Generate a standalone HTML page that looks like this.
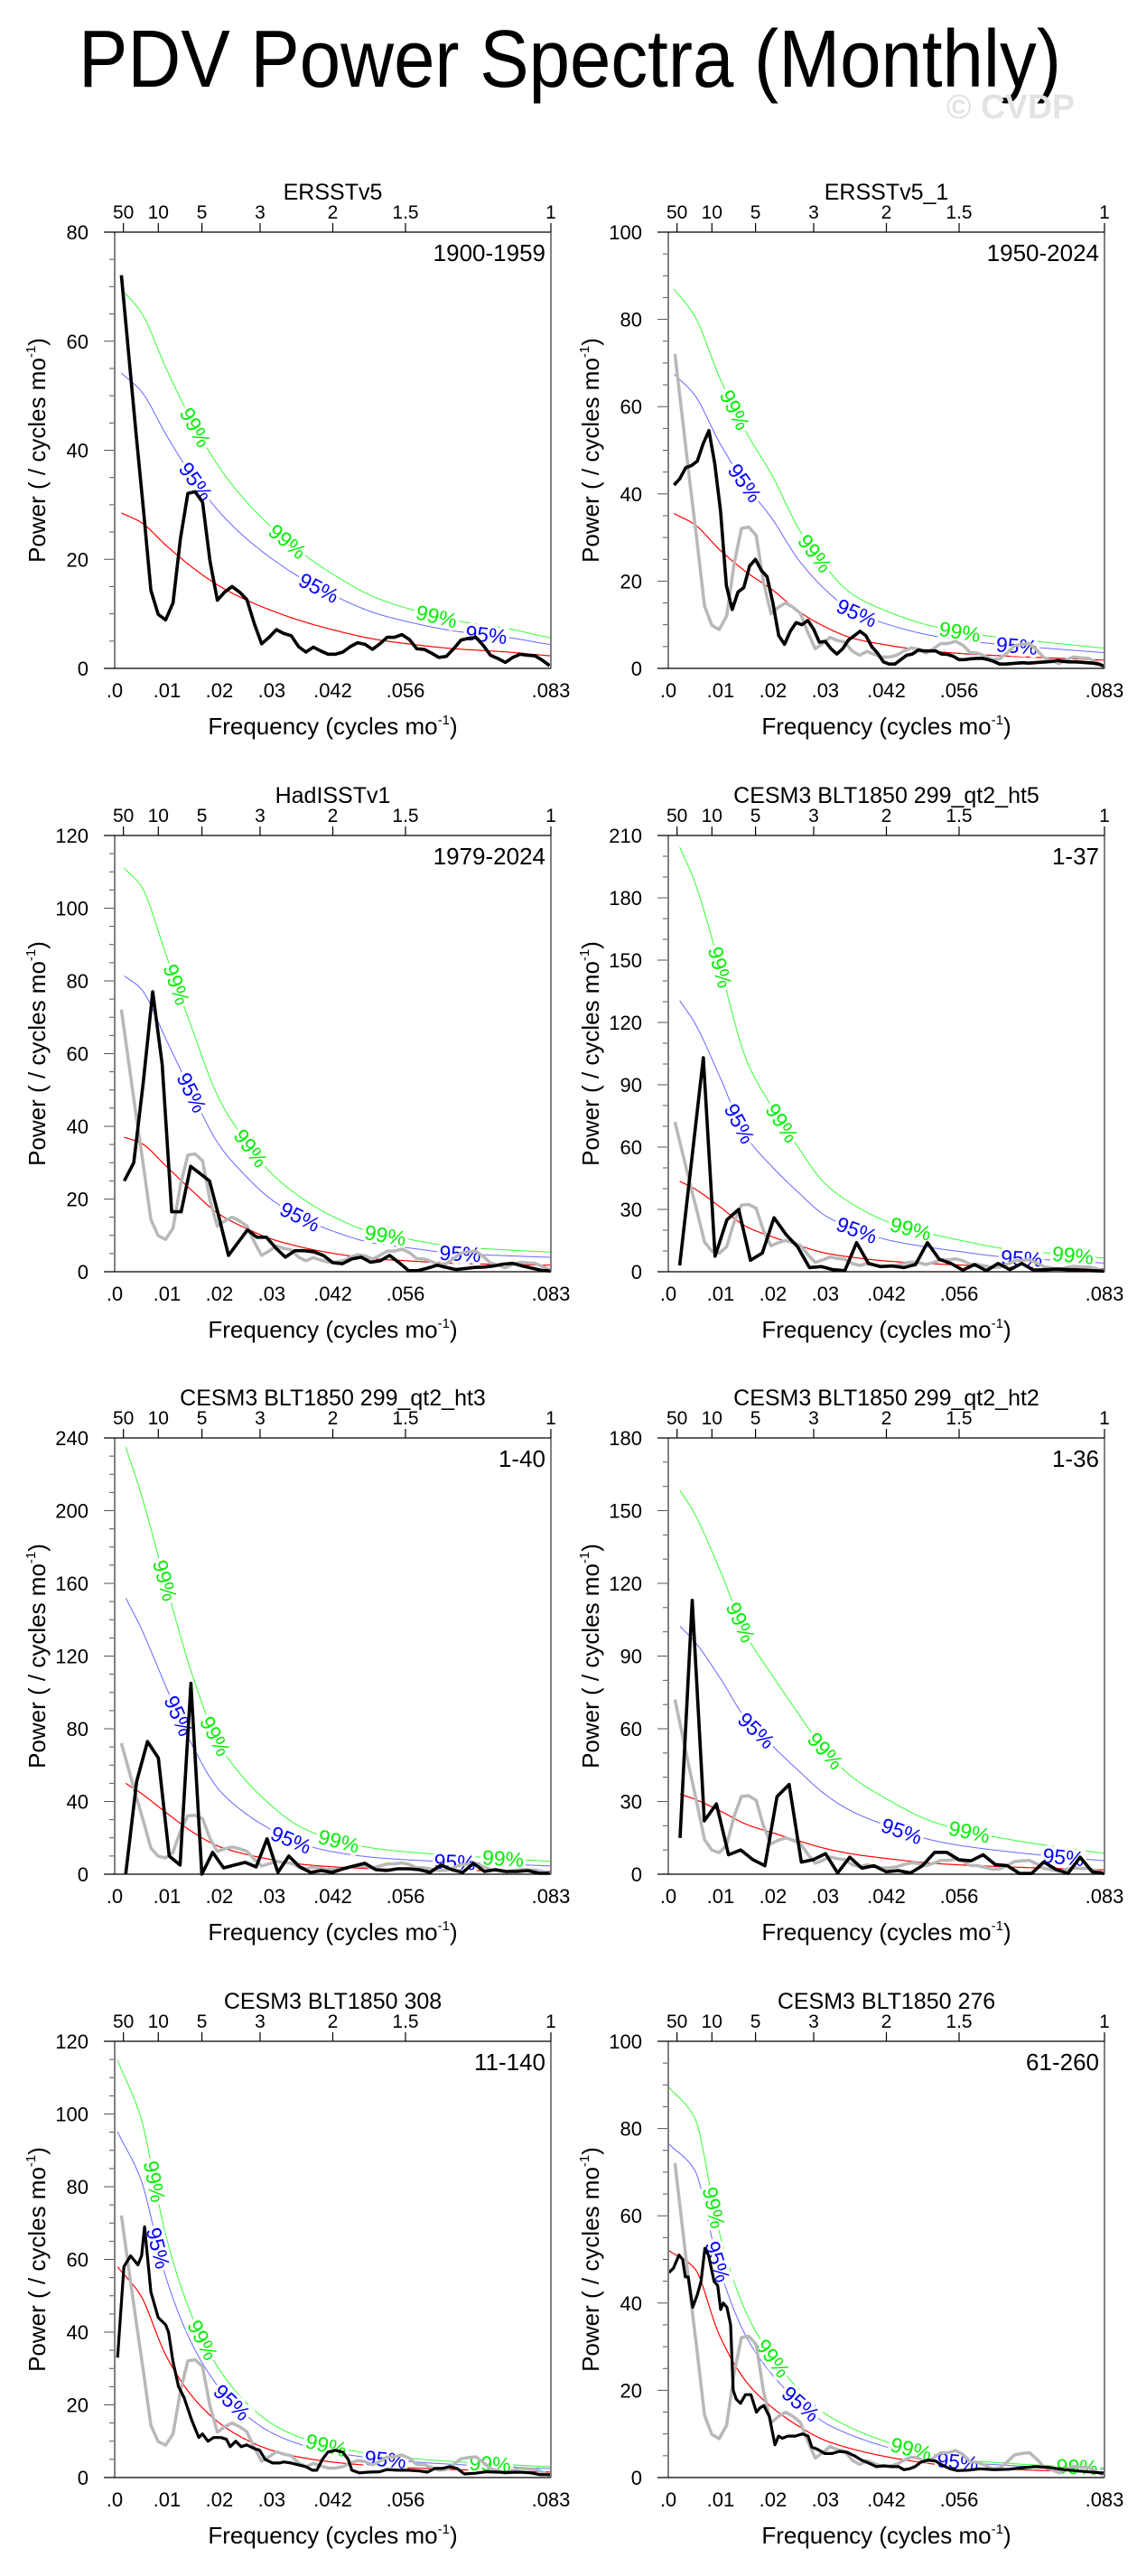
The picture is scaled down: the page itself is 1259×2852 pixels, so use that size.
<!DOCTYPE html>
<html><head><meta charset="utf-8"><style>
html,body{margin:0;padding:0;background:#fff;}
svg{display:block;font-family:"Liberation Sans",Arial,sans-serif;}
</style></head><body>
<svg id="root" width="1259" height="2852" viewBox="0 0 1259 2852">
<rect x="0" y="0" width="1259" height="2852" fill="#fff"/>
<text x="87" y="96" font-size="90" textLength="1088" lengthAdjust="spacingAndGlyphs" fill="#000">PDV Power Spectra (Monthly)</text>
<text x="1048" y="131" font-size="38" font-weight="bold" fill="#e3e3e3" textLength="142" lengthAdjust="spacingAndGlyphs">© CVDP</text>
<g id="panels"></g>
</svg>
<script>
// ---------- data ----------
const titles = ["ERSSTv5","ERSSTv5_1","HadISSTv1","CESM3 BLT1850 299_qt2_ht5","CESM3 BLT1850 299_qt2_ht3","CESM3 BLT1850 299_qt2_ht2","CESM3 BLT1850 308","CESM3 BLT1850 276"];
const ranges = ["1900-1959","1950-2024","1979-2024","1-37","1-40","1-36","11-140","61-260"];
const yMaxes = [80,100,120,210,240,180,120,100];
const yMajor = [20,20,20,30,40,30,20,20];
const yMinor = [5,5,5,10,10,10,5,5];
const periodLabels = ["50","10","5","3","2","1.5","1"];
const periodYears = [50,10,5,3,2,1.5,1];
const freqTickLabels = [".0",".01",".02",".03",".042",".056",".083"];
const freqTickValues = [0,0.01,0.02,0.03,0.041667,0.055556,0.083333];

const p1Power = [72.1,57.6,43,29,14.3,9.9,8.9,12,23.8,32.1,32.4,30.5,19.7,12.5,14,15,14,12.6,8.2,4.5,5.7,7.1,6.4,6,4,3,3.9,3.2,2.6,2.6,3,4,4.7,4.4,3.5,4.5,5.7,5.7,6.2,5.3,3.6,3.5,2.8,2,2.2,3.6,5.2,5.5,5.7,4.2,2.4,1.8,1.1,2,2.6,2.4,2.3,1.5,0.5];
const p2Power = [42,43.5,46,46.5,47.5,51.5,54.5,47,36,19,13.5,17.5,18.5,23.5,25,22.5,21,15,7.5,5.5,8.5,10.5,10,11,9,6,6.2,4.5,3.3,4.5,6.5,7.5,8.5,7.5,5,3.5,1.5,1,1,2,3,3.3,4.2,4,4,4,3.3,3.2,2.8,2,2,2.2,2.3,2.3,2,1.6,1,1,1.1,1.2,1.3,1.2,1.3,1.4,1.5,1.6,1.8,1.6,1.5,1.5,1.4,1.3,1.2,1,0.5];
const p3Power = [25,30,52,77,57,16.5,16.5,29,27,25,15,4.5,8,11.5,9.5,9.5,6.5,4,5.8,5.8,5.5,4.5,2.5,2.2,3.5,4,2.6,3,4.5,2.5,0.3,0.3,1,1.8,1.2,0.6,0.9,1.2,1.3,1.6,2.1,2.3,1.6,1,0.4,0.2];
const p4Power = [3,53,103,7.5,25,30,5.5,9,26,18,12,2,2.5,1,0.5,14,4,2.5,2.8,2,3.5,14,6,4,0.8,3.5,0.5,4,1,4,0.8,1,1.3,1,0.8,0.5,0.3];
const p5Power = [0,51,73,64,10,5,105,0,12,3.5,5,6.5,4,19.5,1,10,4,1,2,1,3,4.5,6,2.5,2,3,3,2.5,1,5,2.5,1,6,1.5,2.5,1.5,1.5,2,0.5,0.5];
const p6Power = [15,113,22,29,8,10,6,3.5,32,37,5,6,8.5,0.5,7,2.5,3.5,1,1.5,0.5,3.5,9,9,6,5.5,8,4,3.5,0.3,0.3,5,2,0.3,7,1,0.3];
const p7Freq = [.00056,.00176,.00303,.00444,.00514,.00571,.00691,.00832,.00973,.01029,.01113,.01219,.01325,.01466,.01607,.01677,.01783,.01889,.0203,.02135,.02206,.02312,.02417,.02523,.02664,.0277,.02876,.03016,.03157,.03228,.03369,.0351,.03651,.03777,.03862,.03968,.04073,.04214,.04355,.04461,.04531,.04672,.04849,.0506,.05201,.05412,.05624,.05835,.05976,.06117,.06258,.06399,.0654,.06681,.06892,.07104,.07315,.07526,.07738,.07949,.08126,.0833];
const p7Power = [33,58,61,58.5,61,69,51,44,42,40,32,25,22,16,11,12,10,11,11,10.5,8.5,10,8.5,9,8,7.5,5,4,4,4.3,4,3.5,3,2,2,5,7,7.5,7,5,2,1.3,1.5,1.6,2.2,2,2,1.8,1.5,2.5,2.5,3,2.5,1,1.2,1.6,1.5,1.4,1.5,1.3,0.8,0.8];
const p8Freq = [.00014,.00099,.00204,.00275,.00324,.00381,.00465,.00557,.00627,.00698,.00768,.00874,.00944,.01001,.0105,.0112,.01191,.0124,.01297,.01381,.01473,.01579,.01684,.01755,.01825,.01931,.02037,.02107,.02178,.02283,.02424,.02565,.02671,.02741,.02847,.02988,.03129,.0327,.03411,.03552,.03693,.03834,.03975,.04116,.04257,.04397,.04503,.04609,.04715,.0482,.04961,.05102,.05243,.05384,.05525,.05736,.05948,.0623,.06512,.06723,.07005,.07287,.07569,.07851,.08133,.0833];
const p8Power = [47,48,51,50,46,46,39,42,45,52.5,51,45,44,38.5,40,39,35,20,18,17,19,19,15,16,16.5,14,7.5,9.5,9,9.5,9.5,10,9.5,7,6.5,5.5,5.5,6,5.8,5,4,3.3,2.5,2.7,2.5,2.5,1.8,2,2.5,3.5,4,3.8,2.8,2,1.6,1.7,2,1.8,1.9,2.2,2.5,2.3,1.8,1.5,1.2,1];
const freqRanges = [[.00127,.0831],[.0011,.0833],[.00183,.0833],[.00218,.0833],[.00211,.0831],[.00225,.0833]];

const redGrid = [0.005,0.01,0.015,0.02,0.025,0.03,0.035,0.042,0.05,0.056,0.065,0.075,0.0833];
const redStartFreq = [.00127,.0011,.00183,.00218,.00211,.00225,.00056,.00014];
const p1Red = [28.5,26.8,22.4,18.4,15.1,12.6,10.6,8.9,7,5.3,4.5,3.6,3,2.3];
const p2Red = [35.5,33,27,22,17.9,13,9.5,7,5.3,4,3.4,2.8,2.3,1.9];
const p3Red = [37,35.4,28.8,22,15.8,12,9,7,5,3.5,3,2.3,2,1.8];
const p4Red = [43.5,40,31,21.6,16.7,12.6,9,7,5.1,3.9,3.2,2.3,1.8,1.4];
const p5Red = [50,44.6,33.5,23,15.2,11,8,5.7,4,3,2.6,2.2,1.8,1.5];
const p6Red = [33,31,26,20.5,17,13.7,10.6,8.4,6.4,4.6,3.8,3,2.3,1.8];
const p7Red = [58,50,33,22,15,10.5,7.5,5.7,4.2,3.2,2.7,2.2,1.8,1.5];
const p8Red = [52,48,32,21.8,15.9,11.7,8.5,6.6,4.7,3.2,2.4,1.9,1.5,1.3];
const conf95 = [1.9,1.9,2.2,3.0,3.04,3.1,1.64,1.47];
const conf99 = [2.44,2.45,3.0,4.7,4.7,4.8,1.98,1.72];
const lab99 = [[.0154,.033,.0615],[.0127,.028,.0557],[.0118,.026,.0517],[.0099,.0217,.0463,.0773],[.0096,.0192,.0428,.0742],[.0138,.03,.0575],[.0076,.0168,.0404,.0717],[.0087,.02,.0464,.0781]];
const lab95 = [[.0155,.039,.071],[.0146,.036,.0666],[.0147,.0354,.066],[.0136,.036,.0675],[.0122,.0337,.065],[.0168,.0446,.0755],[.0083,.0224,.0517],[.0094,.0253,.0553]];

const powers = [p1Power,p2Power,p3Power,p4Power,p5Power,p6Power,p7Power,p8Power];
const reds = [p1Red,p2Red,p3Red,p4Red,p5Red,p6Red,p7Red,p8Red];

// ---------- layout ----------
const NS = "http://www.w3.org/2000/svg";
const W = 483, H = 483, XMAX = 0.083333;
const colLeft = [127, 740];
const rowTop = [257, 925, 1592, 2260];
const root = document.getElementById('panels');

function mk(tag, attrs, parent, text){
  const e = document.createElementNS(NS, tag);
  for (const k in attrs) e.setAttribute(k, attrs[k]);
  if (text !== undefined) e.textContent = text;
  parent.appendChild(e);
  return e;
}
function evenFreqs(r, n){ const a=[]; for(let i=0;i<n;i++) a.push(r[0]+(r[1]-r[0])*i/(n-1)); return a; }
// monotone cubic (Fritsch-Carlson) interpolation on log values
function makeInterp(fs, vs){
  const n = fs.length, ys = vs.map(v=>Math.log(v)), d=[], m=new Array(n);
  for (let i=0;i<n-1;i++) d.push((ys[i+1]-ys[i])/(fs[i+1]-fs[i]));
  m[0]=d[0]; m[n-1]=d[n-2];
  for (let i=1;i<n-1;i++){
    if (d[i-1]*d[i]<=0) m[i]=0;
    else { const h0=fs[i]-fs[i-1], h1=fs[i+1]-fs[i]; const w1=2*h1+h0, w2=h1+2*h0; m[i]=(w1+w2)/(w1/d[i-1]+w2/d[i]); }
  }
  return function(f){
    if (f<=fs[0]) return vs[0];
    if (f>=fs[n-1]) return vs[n-1];
    let i=0; while (f>fs[i+1]) i++;
    const h=fs[i+1]-fs[i], t=(f-fs[i])/h, t2=t*t, t3=t2*t;
    const y=(2*t3-3*t2+1)*ys[i]+(t3-2*t2+t)*h*m[i]+(-2*t3+3*t2)*ys[i+1]+(t3-t2)*h*m[i+1];
    return Math.exp(y);
  };
}

for (let p=0;p<8;p++){
  const L = colLeft[p%2], T = rowTop[Math.floor(p/2)], R = L+W, B = T+H;
  const ymax = yMaxes[p];
  const xS = f => L + f/XMAX*W;
  const yS = v => B - v/ymax*H;
  const g = mk('g', {}, root);
  
  

  const tt = mk('text', {x:L+W/2, y:T-36, 'font-size':25, 'text-anchor':'middle'}, g, titles[p]);
  
  

  for (let i=0;i<periodYears.length;i++){
    const x = xS(1/(12*periodYears[i]));
    const tk = mk('line', {x1:x, x2:x, y1:T, y2:T-10, stroke:'#000', 'stroke-width':1.2}, g);
    
    
    const tl = mk('text', {x:x, y:T-15, 'font-size':21, 'text-anchor':'middle'}, g, periodLabels[i]);
    
    
  }
  for (let v=0; v<=ymax+1e-9; v+=yMinor[p]){
    const major = Math.abs(v/yMajor[p]-Math.round(v/yMajor[p]))<1e-6;
    const y = yS(v);
    const yt = mk('line', {x1:L-(major?12:6), x2:L, y1:y, y2:y, stroke:'#555', 'stroke-width':1}, g);
    
    
    if (major){
      const yl = mk('text', {x:L-29, y:y+8, 'font-size':22, 'text-anchor':'end'}, g, String(v));
      
      
    }
  }
  for (let i=0;i<freqTickValues.length;i++){
    const xl = mk('text', {x:xS(freqTickValues[i]), y:B+32, 'font-size':22, 'text-anchor':'middle'}, g, freqTickLabels[i]);
    
    
  }
  const xt = mk('text', {x:L+W/2, y:B+73, 'font-size':26, 'text-anchor':'middle'}, g);
  
  
  mk('tspan', {}, xt, 'Frequency (cycles mo');
  mk('tspan', {'font-size':15, dy:-11}, xt, '-1');
  mk('tspan', {dy:11}, xt, ')');
  const ytl = mk('text', {x:0, y:0, 'font-size':26, 'text-anchor':'middle', transform:`translate(${L-77},${T+H/2}) rotate(-90)`}, g);
  
  
  mk('tspan', {}, ytl, 'Power ( / cycles mo');
  mk('tspan', {'font-size':15, dy:-11}, ytl, '-1');
  mk('tspan', {dy:11}, ytl, ')');

  const rl = mk('text', {x:R-6, y:T+32, 'font-size':26, 'text-anchor':'end'}, g, ranges[p]);
  
  

  const rFreq = [redStartFreq[p]].concat(redGrid);
  const rVal = reds[p];
  const redAt = makeInterp(rFreq, rVal);
  const curveD = (fac) => {
    let d = '';
    const f0 = rFreq[0];
    for (let i=0;i<=300;i++){
      const f = f0 + (XMAX-f0)*i/300;
      d += (i?'L':'M') + xS(f).toFixed(1) + ',' + yS(redAt(f)*fac).toFixed(1);
    }
    return d;
  };
  const c99 = mk('path', {d:curveD(conf99[p]), fill:'none', stroke:'#33ff33', 'stroke-width':1}, g);
  
  
  const c95 = mk('path', {d:curveD(conf95[p]), fill:'none', stroke:'#6666ff', 'stroke-width':1}, g);
  
  
  const rn = mk('path', {d:curveD(1), fill:'none', stroke:'#ff0000', 'stroke-width':1.2}, g);
  
  

  const addLabels = (list, fac, txt, col, nm) => {
    for (const f of list){
      const x = xS(f), y = yS(redAt(f)*fac);
      const x2 = xS(f+0.001), y2 = yS(redAt(f+0.001)*fac);
      const ang = Math.atan2(y2-y, x2-x)*180/Math.PI;
      const lb = mk('text', {x:0, y:8, 'font-size':23, 'text-anchor':'middle', fill:col, stroke:'#fff', 'stroke-width':7, 'paint-order':'stroke', transform:`translate(${x.toFixed(1)},${y.toFixed(1)}) rotate(${ang.toFixed(1)})`}, g, txt);
      
      
    }
  };
  addLabels(lab99[p], conf99[p], '99%', '#00ee00', 'label-99-percent');
  addLabels(lab95[p], conf95[p], '95%', '#0000ff', 'label-95-percent');

  if (p > 0){
    const rf = evenFreqs(freqRanges[0], p1Power.length);
    let d = '';
    for (let i=0;i<p1Power.length;i++) d += (i?'L':'M') + xS(rf[i]).toFixed(1) + ',' + yS(p1Power[i]).toFixed(1);
    const gl = mk('path', {d:d, fill:'none', stroke:'#b8b8b8', 'stroke-width':3.5, 'stroke-linejoin':'round'}, g);
    
    
  }
  const pw = powers[p];
  const fr = p===6 ? p7Freq : p===7 ? p8Freq : evenFreqs(freqRanges[p], pw.length);
  let d = '';
  const n = Math.min(pw.length, fr.length);
  for (let i=0;i<n;i++) d += (i?'L':'M') + xS(fr[i]).toFixed(1) + ',' + yS(pw[i]).toFixed(1);
  const bl = mk('path', {d:d, fill:'none', stroke:'#000', 'stroke-width':(p>=6?3.2:3.6), 'stroke-linejoin':'round'}, g);
  
  

  const fl = mk('line', {x1:L, x2:L, y1:T, y2:B, stroke:'#808080', 'stroke-width':2}, g);
  
  
  const fr2 = mk('line', {x1:R, x2:R, y1:T, y2:B, stroke:'#808080', 'stroke-width':2}, g);
  
  
  const ft = mk('line', {x1:L-12, x2:R, y1:T, y2:T, stroke:'#000', 'stroke-width':1.3}, g);
  
  
  const fb = mk('line', {x1:L-12, x2:R, y1:B, y2:B, stroke:'#000', 'stroke-width':1.3}, g);
  
  
}
</script>
</body></html>
